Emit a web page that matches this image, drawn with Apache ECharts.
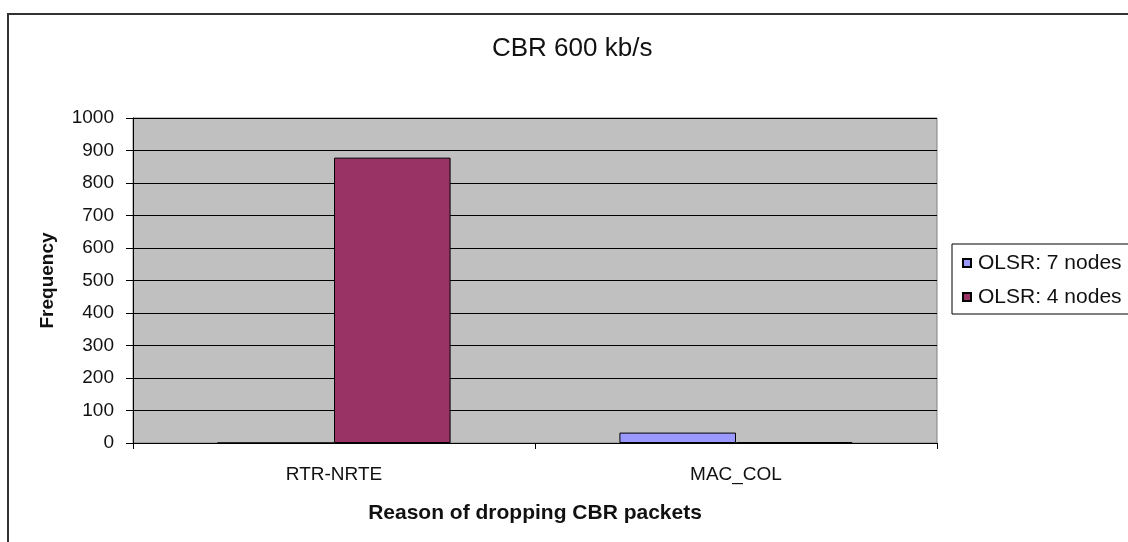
<!DOCTYPE html>
<html>
<head>
<meta charset="utf-8">
<script src="https://cdn.jsdelivr.net/npm/echarts@6/dist/echarts.min.js"></script>
<style>
html,body{margin:0;padding:0;background:#fff;}
#chart{width:1128px;height:542px;}
</style>
</head>
<body>
<div id="chart"></div>
<script>
const categories = ['RTR-NRTE', 'MAC_COL'];
const olsr7 = [0, 32];
const olsr4 = [878, 3];
const seriesNames = ['OLSR: 7 nodes', 'OLSR: 4 nodes'];
const yTicks = [0, 100, 200, 300, 400, 500, 600, 700, 800, 900, 1000];

const FONT = '"Liberation Sans", Arial, sans-serif';
const chart = echarts.init(document.getElementById('chart'), null, {renderer: 'canvas'});
chart.setOption({
  animation: false,
  backgroundColor: '#fff',
  graphic: [{
    type: 'rect', z: 100, silent: true,
    shape: {x: 8, y: 14, width: 1160, height: 560},
    style: {fill: 'none', stroke: '#333', lineWidth: 2}
  }],
  title: {
    text: 'CBR 600 kb/s',
    left: 492, top: 36, padding: 0,
    textStyle: {fontFamily: FONT, fontSize: 26, fontWeight: 'normal', color: '#111'}
  },
  legend: {
    orient: 'vertical',
    left: 952, top: 244,
    padding: [6, 40, 4, 10],
    itemGap: 8,
    itemWidth: 8, itemHeight: 8,
    borderColor: '#000', borderWidth: 1,
    icon: 'rect',
    data: seriesNames,
    textStyle: {fontFamily: FONT, fontSize: 21, color: '#111', lineHeight: 26, padding: [0, 0, 0, 2]}
  },
  grid: {
    left: 133, right: 191, top: 118, bottom: 99,
    show: true, backgroundColor: '#c0c0c0', borderColor: '#808080', borderWidth: 1
  },
  xAxis: {
    type: 'category',
    data: categories,
    name: 'Reason of dropping CBR packets',
    nameLocation: 'middle',
    nameGap: 60,
    nameTextStyle: {fontFamily: FONT, fontSize: 21, fontWeight: 'bold', color: '#111'},
    axisLine: {lineStyle: {color: '#000', width: 1}},
    axisTick: {show: true, length: 6, inside: false, lineStyle: {color: '#000'}},
    axisLabel: {fontFamily: FONT, fontSize: 19, color: '#111', margin: 22}
  },
  yAxis: {
    type: 'value',
    min: 0, max: 1000, interval: 100,
    name: 'Frequency',
    nameLocation: 'middle',
    nameGap: 76,
    nameTextStyle: {fontFamily: FONT, fontSize: 19, fontWeight: 'bold', color: '#111'},
    axisLine: {show: true, lineStyle: {color: '#000', width: 1}},
    axisTick: {show: true, length: 7, lineStyle: {color: '#000'}},
    axisLabel: {fontFamily: FONT, fontSize: 19, color: '#111', margin: 19,
      formatter: v => yTicks.includes(v) ? String(v) : ''},
    splitLine: {show: true, lineStyle: {color: '#000', width: 1}}
  },
  series: [
    {
      name: seriesNames[0], type: 'bar', data: olsr7,
      barGap: '0%', barCategoryGap: '42%',
      itemStyle: {color: '#9999ff', borderColor: '#000', borderWidth: 1}
    },
    {
      name: seriesNames[1], type: 'bar', data: olsr4,
      barGap: '0%', barCategoryGap: '42%',
      itemStyle: {color: '#993366', borderColor: '#000', borderWidth: 1}
    }
  ]
});
</script>
</body>
</html>
